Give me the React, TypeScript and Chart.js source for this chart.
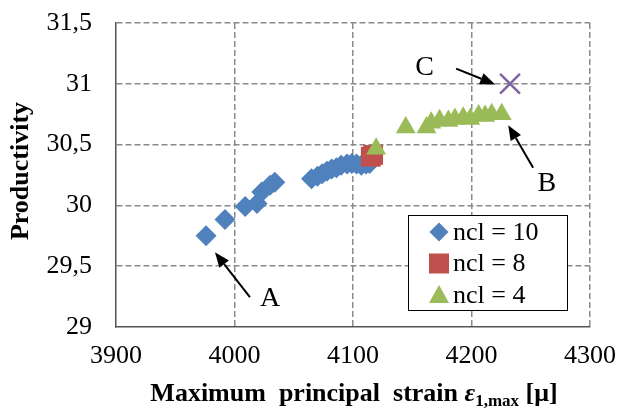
import React, { useEffect, useRef } from "react";
import { Chart, registerables } from "chart.js";

Chart.register(...registerables);

// ---- data ----
const ncl10X = [3976, 3992, 4009, 4019, 4023, 4030, 4034, 4065, 4070, 4074, 4078, 4082, 4086, 4090, 4095, 4099, 4103, 4107, 4111, 4114];
const ncl10Y = [29.75, 29.885, 29.99, 30.015, 30.11, 30.165, 30.19, 30.22, 30.24, 30.26, 30.28, 30.30, 30.31, 30.33, 30.34, 30.345, 30.34, 30.33, 30.34, 30.345];

const ncl8X = [4115, 4117];
const ncl8Y = [30.40, 30.415];

const ncl4X = [4119.5, 4144.5, 4162, 4166, 4173, 4180.5, 4186, 4193, 4199, 4206, 4211.5, 4217, 4225.5];
const ncl4Y = [30.465, 30.64, 30.64, 30.68, 30.70, 30.695, 30.71, 30.72, 30.71, 30.74, 30.735, 30.75, 30.75];

const pointCX = [4232.5];
const pointCY = [31.0];

const seriesNames = ["ncl = 10", "ncl = 8", "ncl = 4"];
const xTickValues = [3900, 4000, 4100, 4200, 4300];
const yTickValues = [29, 29.5, 30, 30.5, 31, 31.5];

// annotation letters with arrows, in data units
const annLabels = ["A", "B", "C"];
const annLabelX = [4030, 4263.5, 4160.5];
const annLabelY = [29.235, 30.18, 31.13];
const annTailX = [4013, 4252, 4187];
const annTailY = [29.245, 30.31, 31.125];
const annTipX = [3983.5, 4231, 4220];
const annTipY = [29.615, 30.66, 30.995];

const BLUE = "#4F81BD";
const RED = "#C0504D";
const GREEN = "#9BBB59";
const PURPLE = "#8064A2";
const FONT = '"Liberation Serif", "Times New Roman", serif';

const toPts = (xs: number[], ys: number[]) => xs.map((x, i) => ({ x, y: ys[i] }));
const fmt = (v: number) => String(v).replace(".", ",");

function drawArrow(ctx: CanvasRenderingContext2D, x1: number, y1: number, x2: number, y2: number) {
  const ang = Math.atan2(y2 - y1, x2 - x1);
  const len = 15;
  const hw = 6;
  const bx = x2 - Math.cos(ang) * len;
  const by = y2 - Math.sin(ang) * len;
  ctx.strokeStyle = "#000";
  ctx.lineWidth = 2;
  ctx.beginPath();
  ctx.moveTo(x1, y1);
  ctx.lineTo(bx, by);
  ctx.stroke();
  ctx.fillStyle = "#000";
  ctx.beginPath();
  ctx.moveTo(x2, y2);
  ctx.lineTo(bx + Math.sin(ang) * hw, by - Math.cos(ang) * hw);
  ctx.lineTo(bx - Math.sin(ang) * hw, by + Math.cos(ang) * hw);
  ctx.closePath();
  ctx.fill();
}

const overlayPlugin = {
  id: "overlay",
  afterDraw(chart: any) {
    const ctx: CanvasRenderingContext2D = chart.ctx;
    const xs = chart.scales.x;
    const ys = chart.scales.y;
    ctx.save();

    // annotations
    ctx.font = `28px ${FONT}`;
    ctx.textAlign = "center";
    ctx.textBaseline = "middle";
    for (let i = 0; i < annLabels.length; i++) {
      drawArrow(
        ctx,
        xs.getPixelForValue(annTailX[i]),
        ys.getPixelForValue(annTailY[i]),
        xs.getPixelForValue(annTipX[i]),
        ys.getPixelForValue(annTipY[i])
      );
      ctx.fillStyle = "#000";
      ctx.fillText(annLabels[i], xs.getPixelForValue(annLabelX[i]), ys.getPixelForValue(annLabelY[i]));
    }

    // legend
    const bx = 408, by = 215, bw = 159, bh = 95;
    ctx.fillStyle = "#fff";
    ctx.fillRect(bx, by, bw, bh);
    ctx.strokeStyle = "#000";
    ctx.lineWidth = 1;
    ctx.strokeRect(bx + 0.5, by + 0.5, bw, bh);
    const rowY = [232, 263.5, 295];
    const mx = 439;
    ctx.fillStyle = BLUE;
    ctx.beginPath();
    ctx.moveTo(mx - 9.5, rowY[0]);
    ctx.lineTo(mx, rowY[0] - 9.5);
    ctx.lineTo(mx + 9.5, rowY[0]);
    ctx.lineTo(mx, rowY[0] + 9.5);
    ctx.closePath();
    ctx.fill();
    ctx.fillStyle = RED;
    ctx.fillRect(mx - 10, rowY[1] - 10, 20, 20);
    ctx.fillStyle = GREEN;
    ctx.beginPath();
    ctx.moveTo(mx, rowY[2] - 10);
    ctx.lineTo(mx + 10, rowY[2] + 8);
    ctx.lineTo(mx - 10, rowY[2] + 8);
    ctx.closePath();
    ctx.fill();
    ctx.fillStyle = "#000";
    ctx.font = `26px ${FONT}`;
    ctx.textAlign = "left";
    ctx.textBaseline = "middle";
    for (let i = 0; i < seriesNames.length; i++) {
      ctx.fillText(seriesNames[i], 453, rowY[i] + 1);
    }

    // y title
    ctx.save();
    ctx.translate(28, 171);
    ctx.rotate(-Math.PI / 2);
    ctx.font = `bold 26px ${FONT}`;
    ctx.textAlign = "center";
    ctx.textBaseline = "alphabetic";
    ctx.fillText("Productivity", 0, 0);
    ctx.restore();

    // x title (rich text)
    const parts = [
      { t: "Maximum  principal  strain ", f: `bold 26px ${FONT}`, dy: 0 },
      { t: "ε", f: `italic bold 26px ${FONT}`, dy: 0 },
      { t: "1,max", f: `bold 17px ${FONT}`, dy: 5 },
      { t: " [μ]", f: `bold 26px ${FONT}`, dy: 0 },
    ];
    let total = 0;
    const widths = parts.map((p) => {
      ctx.font = p.f;
      const w = ctx.measureText(p.t).width;
      total += w;
      return w;
    });
    let cx = 354 - total / 2;
    ctx.textAlign = "left";
    ctx.textBaseline = "alphabetic";
    parts.forEach((p, i) => {
      ctx.font = p.f;
      ctx.fillText(p.t, cx, 401 + p.dy);
      cx += widths[i];
    });

    ctx.restore();
  },
};

const zeroPadding = (s: any) => {
  s.paddingTop = 0;
  s.paddingBottom = 0;
  s.paddingLeft = 0;
  s.paddingRight = 0;
};

export default function App() {
  const ref = useRef<HTMLCanvasElement | null>(null);

  useEffect(() => {
    document.body.style.margin = "0";
    const canvas = ref.current;
    if (!canvas) return;
    const gridColor = (edgeValue: number) => (c: any) =>
      c.tick && c.tick.value === edgeValue ? "rgba(0,0,0,0)" : "#8a8a8a";

    const chart = new Chart(canvas, {
      type: "scatter",
      data: {
        datasets: [
          {
            label: "C",
            data: toPts(pointCX, pointCY),
            pointStyle: "crossRot",
            pointRadius: 14,
            pointBorderWidth: 2.5,
            borderColor: PURPLE,
            backgroundColor: PURPLE,
            order: 0,
          },
          {
            label: seriesNames[2],
            data: toPts(ncl4X, ncl4Y),
            pointStyle: "triangle",
            pointRadius: 11.5,
            pointBorderWidth: 0,
            backgroundColor: GREEN,
            borderColor: GREEN,
            order: 1,
          },
          {
            label: seriesNames[1],
            data: toPts(ncl8X, ncl8Y),
            pointStyle: "rect",
            pointRadius: 14,
            pointBorderWidth: 0,
            backgroundColor: RED,
            borderColor: RED,
            order: 2,
          },
          {
            label: seriesNames[0],
            data: toPts(ncl10X, ncl10Y),
            pointStyle: "rectRot",
            pointRadius: 10.5,
            pointBorderWidth: 0,
            backgroundColor: BLUE,
            borderColor: BLUE,
            order: 3,
          },
        ],
      },
      options: {
        animation: false,
        responsive: false,
        events: [],
        layout: { padding: { top: 23, right: 28, left: 0, bottom: 0 } },
        plugins: {
          legend: { display: false },
          tooltip: { enabled: false },
          title: { display: false },
        },
        scales: {
          x: {
            type: "linear",
            min: 3900,
            max: 4300,
            afterBuildTicks: (s: any) => {
              s.ticks = xTickValues.map((v) => ({ value: v }));
            },
            afterFit: (s: any) => {
              s.height = 85;
              zeroPadding(s);
            },
            ticks: {
              font: { family: FONT, size: 26 },
              color: "#000",
              padding: 14,
              maxRotation: 0,
              callback: (v: any) => String(v),
            },
            grid: {
              color: gridColor(3900),
              lineWidth: 1.5,
              drawTicks: false,
              tickLength: 0,
            },
            border: { display: true, color: "#555", width: 1.5, dash: [6, 3] },
          },
          y: {
            type: "linear",
            min: 29,
            max: 31.5,
            afterBuildTicks: (s: any) => {
              s.ticks = yTickValues.map((v) => ({ value: v }));
            },
            afterFit: (s: any) => {
              s.width = 116;
              zeroPadding(s);
            },
            ticks: {
              font: { family: FONT, size: 26 },
              color: "#000",
              padding: 24,
              callback: (v: any) => fmt(Number(v)),
            },
            grid: {
              color: gridColor(29),
              lineWidth: 1.5,
              drawTicks: false,
              tickLength: 0,
            },
            border: { display: true, color: "#555", width: 1.5, dash: [6, 3] },
          },
        },
      },
      plugins: [overlayPlugin],
    } as any);

    return () => chart.destroy();
  }, []);

  return (
    <div style={{ position: "absolute", left: 0, top: 0, width: 618, height: 412, background: "#fff" }}>
      <canvas ref={ref} width={618} height={412} style={{ display: "block" }} />
    </div>
  );
}
